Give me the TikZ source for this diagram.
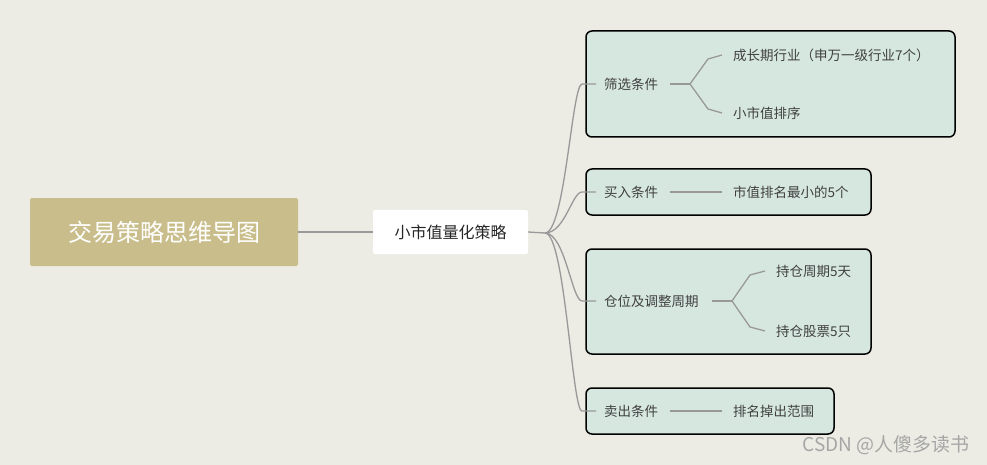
\documentclass[tikz,border=0pt]{standalone}
\usepackage{fontspec}
\setmainfont{Noto Sans CJK SC}
\begin{document}
\begin{tikzpicture}[x=1pt,y=-1pt,
  conn/.style={draw=gray!80,line width=1.3pt},
  box/.style={draw=black,line width=1.5pt,fill=boxc,rounded corners=6pt},
  lbl/.style={font=\fontsize{13.5}{15}\selectfont,text=black!75,inner sep=1pt,anchor=west},
  lblL/.style={lbl}]
\definecolor{bg}{HTML}{ECECE4}
\definecolor{boxc}{HTML}{D6E7E0}
\definecolor{rootc}{HTML}{C9BE8B}
\fill[bg] (0,0) rectangle (987,465);
\useasboundingbox (0,0) rectangle (987,465);
% boxes
\draw[box] (586,31) rectangle (955,137);
\draw[box] (586,169) rectangle (871,215);
\draw[box] (586,249) rectangle (871,354);
\draw[box] (586,388) rectangle (834,434);
% root and center
\node[fill=rootc,rounded corners=2pt,minimum width=268pt,minimum height=68pt,text=white,font=\fontsize{24}{28}\selectfont] (root) at (164,232) {交易策略思维导图};
\node[fill=white,rounded corners=2pt,minimum width=155pt,minimum height=44pt,font=\fontsize{16}{19}\selectfont,text=black!85] (ctr) at (450.5,232) {小市值量化策略};
\draw[conn] (root.east) -- (ctr.west);
% level 1 labels
\node[lbl] (a) at (603,84) {筛选条件};
\node[lbl] (b) at (603,192) {买入条件};
\node[lbl] (c) at (603,301) {仓位及调整周期};
\node[lbl] (d) at (603,411) {卖出条件};
\coordinate (hub) at (545,233);
\draw[conn] (ctr.east) -- (hub);
\foreach \n/\y in {a/84,b/192,c/301,d/411}{
  \draw[conn] (hub) .. controls (565,233) and (572,\y) .. (582,\y) -- (596,\y);
}
% level 2
\node[lblL] (a1) at (732,55) {成长期行业（申万一级行业7个）};
\node[lblL] (a2) at (732,113) {小市值排序};
\node[lblL] (b1) at (732,192) {市值排名最小的5个};
\node[lblL] (c1) at (775,271) {持仓周期5天};
\node[lblL] (c2) at (775,331) {持仓股票5只};
\node[lblL] (d1) at (732,411) {排名掉出范围};
\draw[conn] (670,84) -- (690,84);
\draw[conn] (690,84) -- (708,59) -- (722,55);
\draw[conn] (690,84) -- (708,109) -- (722,113);
\draw[conn] (670,192) -- (722,192);
\draw[conn] (712,301) -- (732,301);
\draw[conn] (732,301) -- (750,275) -- (765,271);
\draw[conn] (732,301) -- (750,327) -- (765,331);
\draw[conn] (670,411) -- (722,411);
\node[anchor=east,font=\fontsize{19}{22}\selectfont,text=gray!70] (wm) at (973,445) {CSDN @人傻多读书};
\end{tikzpicture}
\end{document}
